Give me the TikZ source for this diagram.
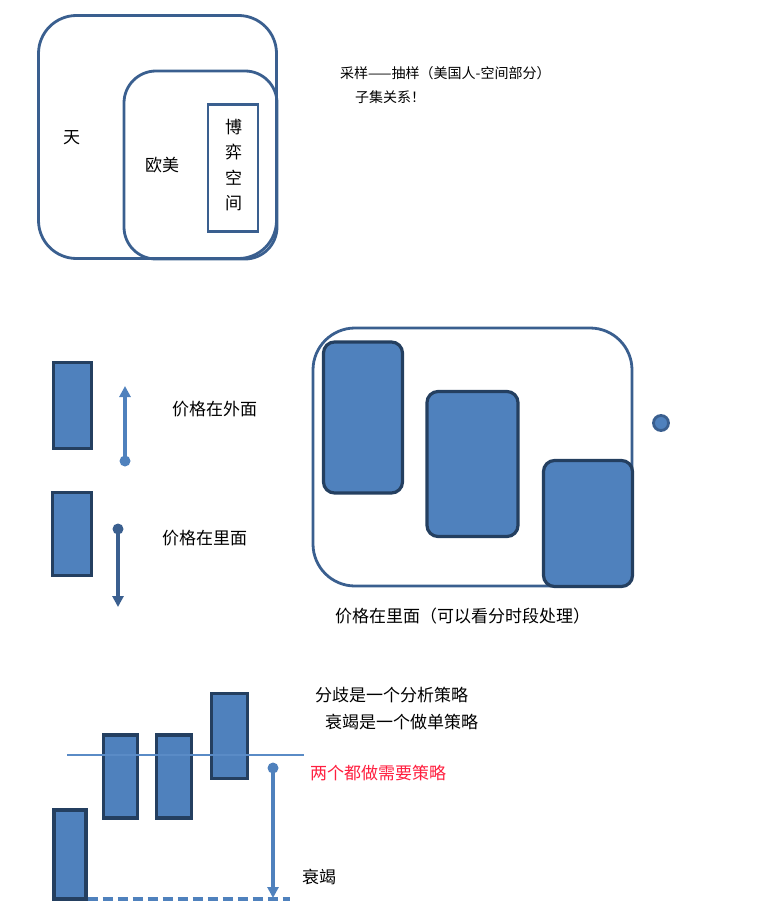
\documentclass[tikz,border=0pt]{standalone}
\usepackage{fontspec}
\newfontfamily\cjk{Noto Sans CJK SC}
\usepackage{xcolor}
\usetikzlibrary{arrows.meta, positioning}
\definecolor{candleblue}{HTML}{4F81BD}
\definecolor{levelblue}{HTML}{5A8BC6}
\definecolor{frameblue}{HTML}{3A5F8F}
\definecolor{darkblue}{HTML}{243F60}
\definecolor{notered}{HTML}{FF1F3F}

\begin{document}
\begin{tikzpicture}[
    x=1pt, y=-1pt,
    txt/.style={font=\cjk\fontsize{17}{20}\selectfont, inner sep=0pt, anchor=west},
    smalltxt/.style={txt, font=\cjk\fontsize{14}{17}\selectfont},
    frame/.style={draw=frameblue, line width=2.8pt, rounded corners=#1, inner sep=0pt},
    frame/.default=36pt,
    candle/.style={draw=darkblue, fill=candleblue, line width=3.2pt, inner sep=0pt},
    roundcandle/.style={candle, rounded corners=11pt},
    dot/.style={circle, fill=#1, inner sep=0pt, minimum size=11pt},
    dot/.default=candleblue,
    arrow/.style={-{Triangle[width=11pt,length=11pt]}, line width=3.3pt, draw=#1},
    arrow/.default=candleblue
]
\useasboundingbox (0,0) rectangle (760,920);

% Sets
\node[frame=38pt, minimum width=238pt, minimum height=243pt] (tian) at (157.5,137) {};
\node[frame=32pt, minimum width=153pt, minimum height=188pt] (oumei) at (200.5,165) {};
\node[draw=frameblue, line width=2.8pt, minimum width=50pt, minimum height=127pt, inner sep=0pt] (boyi) at (233,168) {};
\node[txt] (tianlabel) at (63,138) {天};
\node[txt] (oumeilabel) at (145,165) {欧美};
\node[txt, anchor=center, align=center, font=\cjk\fontsize{17}{25.5}\selectfont] (boyilabel) at (233.5,165) {博\\弈\\空\\间};
\node[smalltxt] (sampling) at (340,73) {采样——抽样（美国人-空间部分）};
\node[smalltxt] (subset) at (355,97) {子集关系！};

% Price outside / inside
\node[candle, minimum width=38pt, minimum height=86pt] (upbar) at (72.5,405.5) {};
\node[dot] (updot) at (125,461) {};
\coordinate (uptip) at (125,386);
\draw[arrow] (updot.center) -- (uptip);
\node[txt] (outside) at (172,409) {价格在外面};

\node[candle, minimum width=39pt, minimum height=83pt] (downbar) at (72,534) {};
\node[dot=frameblue] (downdot) at (118,529) {};
\coordinate (downtip) at (118,607);
\draw[arrow=frameblue] (downdot.center) -- (downtip);
\node[txt] (inside) at (162,538) {价格在里面};

% Price inside the range
\node[frame=42pt, minimum width=319pt, minimum height=258pt] (range) at (472.5,457) {};
\node[roundcandle, minimum width=79pt, minimum height=151pt] (barA) at (363,417.5) {};
\node[roundcandle, minimum width=91pt, minimum height=145pt] (barB) at (472.5,464) {};
\node[roundcandle, minimum width=89pt, minimum height=126pt] (barC) at (588,523.5) {};
\node[circle, draw=frameblue, fill=candleblue, line width=2.8pt, minimum size=15pt, inner sep=0pt] (point) at (661,423) {};
\node[txt] (caption) at (335,616) {价格在里面（可以看分时段处理）};

% Divergence and exhaustion
\node[candle, minimum width=32pt, minimum height=89pt] (bar1) at (70,854.5) {};
\node[candle, minimum width=34pt, minimum height=83pt] (bar2) at (120.5,776.5) {};
\node[candle, minimum width=35pt, minimum height=83pt] (bar3) at (174,776.5) {};
\node[candle, minimum width=36pt, minimum height=85pt] (bar4) at (229.5,736) {};
\coordinate (levelL) at (67,755);
\coordinate (levelR) at (304,755);
\draw[levelblue, line width=2.2pt] (levelL) -- (levelR);
\coordinate (lowR) at (290,899);
\draw[candleblue, line width=3.5pt, dash pattern=on 10pt off 5pt] (bar1.east |- lowR) -- (lowR);
\node[dot] (exdot) at (273,768) {};
\coordinate (extip) at (273,898);
\draw[arrow] (exdot.center) -- (extip);
\node[txt] (diverge) at (315,695) {分歧是一个分析策略};
\node[txt] (exhaust) at (325,722) {衰竭是一个做单策略};
\node[txt, text=notered] (both) at (310,773) {两个都做需要策略};
\node[txt] (exlabel) at (302,877) {衰竭};

\end{tikzpicture}
\end{document}
